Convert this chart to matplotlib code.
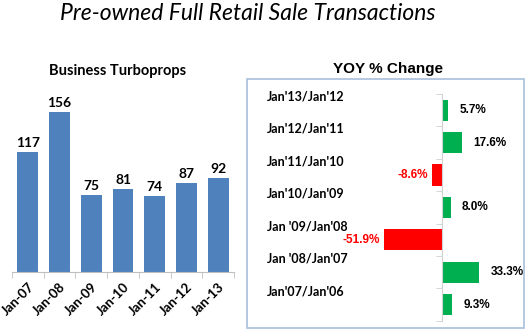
import matplotlib
matplotlib.use("Agg")
import matplotlib.pyplot as plt
from matplotlib.patches import Rectangle
import numpy as np

# left chart data
years = ["Jan-07", "Jan-08", "Jan-09", "Jan-10", "Jan-11", "Jan-12", "Jan-13"]
units = [117, 156, 75, 81, 74, 87, 92]

# right chart data (top to bottom)
periods = ["Jan'13/Jan'12", "Jan'12/Jan'11", "Jan'11/Jan'10", "Jan'10/Jan'09",
           "Jan '09/Jan'08", "Jan '08/Jan'07", "Jan'07/Jan'06"]
yoy = [5.7, 17.6, -8.6, 8.0, -51.9, 33.3, 9.3]

W, H = 525, 332
fig = plt.figure(figsize=(W / 100, H / 100), dpi=100)
fig.patch.set_facecolor("white")

fig.text(248 / W, 1 - 13 / H, "Pre-owned Full Retail Sale Transactions",
         ha="center", va="center", fontsize=16.5, style="italic", family="Lato")

# ---- Business Turboprops ----
ax1 = fig.add_axes([12 / W, (H - 272) / H, 222 / W, 184.6 / H])
x = np.arange(len(years))
ax1.bar(x, units, width=0.66, color="#4F81BD")
for xi, v in zip(x, units):
    ax1.annotate(str(v), (xi, v), xytext=(0, 2), textcoords="offset points",
                 ha="center", va="bottom", fontsize=10, fontweight="bold", family="Lato")
ax1.set_xlim(-0.5, len(years) - 0.5)
ax1.set_ylim(0, 180)
for s in ["top", "right", "left"]:
    ax1.spines[s].set_visible(False)
ax1.spines["bottom"].set_color("#BFBFBF")
ax1.set_yticks([])
ax1.set_xticks(x)
ax1.set_xticklabels(years, rotation=45, ha="right", rotation_mode="anchor",
                    fontsize=9.5, fontweight="bold", family="Lato")
ax1.tick_params(axis="x", which="major", length=0, pad=6)
ax1.set_xticks(np.arange(len(years) + 1) - 0.5, minor=True)
ax1.tick_params(axis="x", which="minor", length=4, color="#BFBFBF")
fig.text(118 / W, 1 - 71 / H, "Business Turboprops", ha="center", va="center",
         fontsize=10.5, fontweight="bold", family="Lato")

# ---- YOY % Change ----
fig.patches.append(Rectangle((247 / W, 4 / H), 277 / W, 249 / H, transform=fig.transFigure,
                             fill=False, edgecolor="#A7BFDA", linewidth=1.2))
fig.text(388 / W, 1 - 69 / H, "YOY % Change", ha="center", va="center",
         fontsize=11, fontweight="bold", family="Liberation Sans")

ax2 = fig.add_axes([247 / W, 4 / H, 277 / W, 249 / H])
ax2.patch.set_visible(False)
ypos = np.arange(len(periods))
colors = ["#00B050" if v >= 0 else "#FF0000" for v in yoy]
ax2.barh(ypos, yoy, height=0.65, color=colors)
ax2.set_xlim(-174.9, 73.5)
ax2.set_ylim(6.72, -0.96)
for s in ["top", "right", "bottom"]:
    ax2.spines[s].set_visible(False)
ax2.spines["left"].set_position(("data", 0))
ax2.spines["left"].set_bounds(-0.5, len(periods) - 0.5)
ax2.spines["left"].set_color("#D0D0D0")
ax2.set_xticks([])
ax2.set_yticks([])
ax2.set_yticks(np.arange(len(periods) + 1) - 0.5, minor=True)
ax2.tick_params(axis="y", which="minor", length=4, color="#D0D0D0", labelleft=False)

for yi, v, lab in zip(ypos, yoy, periods):
    if v >= 0:
        ax2.annotate(f"{v:.1f}%", (v, yi), xytext=(8, 0), textcoords="offset points",
                     ha="left", va="center", fontsize=8.5, fontweight="bold",
                     family="Liberation Sans", color="black")
    else:
        ax2.annotate(f"{v:.1f}%", (v, yi), xytext=(-3, 0), textcoords="offset points",
                     ha="right", va="center", fontsize=8.5, fontweight="bold",
                     family="Liberation Sans", color="#FF0000")
    ax2.text(20 / 277, yi - 0.42, lab, transform=ax2.get_yaxis_transform(),
             ha="left", va="center", fontsize=9, fontweight="bold", family="Lato")

fig.savefig("out.png", dpi=100)
